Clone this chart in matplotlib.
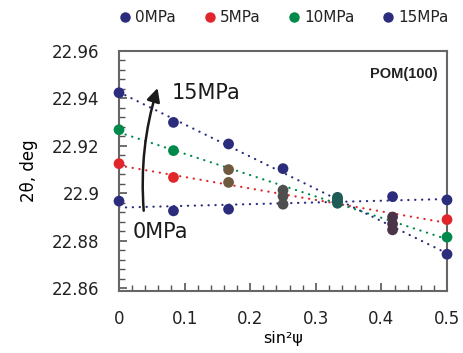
import numpy as np
import matplotlib
matplotlib.use("Agg")
import matplotlib.pyplot as plt
from matplotlib.ticker import FixedLocator, MultipleLocator

plt.rcParams['font.family'] = ['DejaVu Sans']

# data
sin2psi = [0, 0.083, 0.167, 0.25, 0.333, 0.417, 0.5]
labels = ['0MPa', '5MPa', '10MPa', '15MPa']
two_theta = {
    '0MPa':  [22.8967, 22.8926, 22.8933, 22.8954, 22.8967, 22.8986, 22.8972],
    '5MPa':  [22.9125, 22.9067, 22.9046, 22.8988, 22.8958, 22.8900, 22.8889],
    '10MPa': [22.9268, 22.9180, 22.9100, 22.9013, 22.8975, 22.8871, 22.8815],
    '15MPa': [22.9424, 22.9299, 22.9208, 22.9104, 22.8983, 22.8846, 22.8743],
}
yticks = [22.86, 22.88, 22.9, 22.92, 22.94, 22.96]
ytick_labels = ['22.86', '22.88', '22.9', '22.92', '22.94', '22.96']
xticks = [0, 0.1, 0.2, 0.3, 0.4, 0.5]
xtick_labels = ['0', '0.1', '0.2', '0.3', '0.4', '0.5']

navy = '#2b2d7c'
red = '#e0262b'
green = '#00894a'
colors = {'0MPa': navy, '5MPa': red, '10MPa': green, '15MPa': navy}

# overlapping points look blended in the original
brown, grey, teal, purple = '#6e5a3e', '#4f4f4f', '#1f5c55', '#4a3447'
point_colors = {
    '0MPa':  [navy, navy, navy, grey, teal, navy, navy],
    '5MPa':  [red, red, brown, grey, teal, purple, red],
    '10MPa': [green, green, brown, grey, teal, purple, green],
    '15MPa': [navy, navy, navy, navy, teal, purple, navy],
}

fig = plt.figure(figsize=(4.64, 3.53), dpi=100)
ax = fig.add_axes([0.2565, 0.1756, 0.7069, 0.6799])

xfit = np.array([0, 0.5])
for name in labels:
    y = np.array(two_theta[name])
    k, b = np.polyfit(sin2psi, y, 1)
    ax.plot(xfit, k * xfit + b, color=colors[name], linestyle=(0, (0.1, 3)),
            lw=1.6, dash_capstyle='round', zorder=2)
for name in labels:
    ax.scatter(sin2psi, two_theta[name], s=60, c=point_colors[name],
               clip_on=False, zorder=3, linewidths=0)

# legend handles
for name in labels:
    ax.plot([], [], 'o', color=colors[name], ms=6.5, label=name)
ax.legend(loc='center', bbox_to_anchor=(0.5, 1.14), ncol=4,
          frameon=False, fontsize=11, handletextpad=0.15, columnspacing=1.7,
          handlelength=1.0, borderaxespad=0, labelcolor='#222222')

# arrow and labels
ax.annotate('', xy=(0.06, 22.9455), xytext=(0.038, 22.8915),
            arrowprops=dict(arrowstyle='-|>,head_length=0.8,head_width=0.4',
                            color='#1a1a1a', lw=1.8,
                            connectionstyle='arc3,rad=-0.1'))
ax.text(0.08, 22.9425, '15MPa', fontsize=15, va='center', ha='left',
        color='#1a1a1a')
ax.text(0.02, 22.8838, '0MPa', fontsize=15, va='center', ha='left',
        color='#1a1a1a')
ax.text(0.485, 22.9505, 'POM(100)', fontsize=10.5, fontweight='bold',
        family='Liberation Sans', ha='right', va='center', color='#222222')

ax.set_xlim(0, 0.5)
ax.set_ylim(22.8588, 22.96)
ax.yaxis.set_major_locator(FixedLocator(yticks))
ax.set_yticklabels(ytick_labels)
ax.xaxis.set_major_locator(FixedLocator(xticks))
ax.set_xticklabels(xtick_labels)
ax.yaxis.set_minor_locator(MultipleLocator(0.004))
ax.xaxis.set_minor_locator(MultipleLocator(0.02))
ax.tick_params(which='both', direction='in', colors='#555555',
               labelcolor='#222222', labelsize=12)
ax.tick_params(which='major', length=6, width=1.2)
ax.tick_params(which='minor', length=4, width=1.0)
ax.tick_params(axis='y', pad=14)
ax.tick_params(axis='x', pad=14)
for s in ax.spines.values():
    s.set_color('#666666')
    s.set_linewidth(1.5)

ax.set_xlabel('sin²ψ', fontsize=11.5, labelpad=2)
ax.set_ylabel('2θ, deg', fontsize=12, labelpad=10)

fig.savefig('out.png', dpi=100)
